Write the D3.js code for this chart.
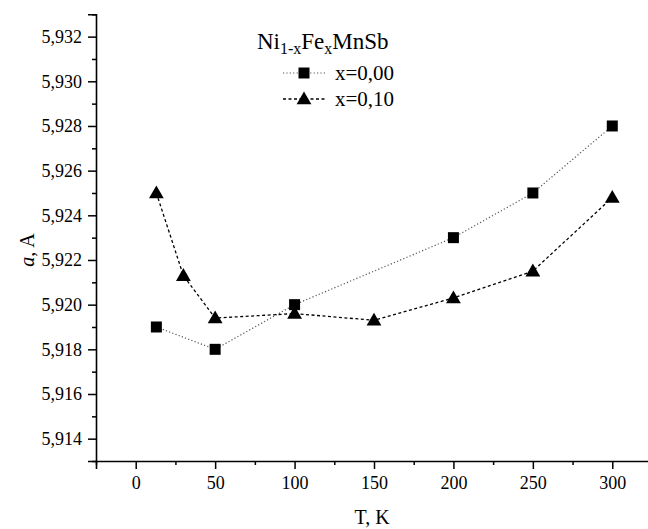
<!DOCTYPE html>
<html>
<head>
<meta charset="utf-8">
<script src="https://cdn.jsdelivr.net/npm/d3@7"></script>
<style>
  html, body { margin: 0; padding: 0; background: #fff; }
  svg { display: block; }
  text { font-family: "Liberation Serif", "Times New Roman", serif; fill: #000; }
</style>
</head>
<body>
<svg id="chart" width="648" height="529"></svg>
<script>
// Lattice parameter a (Å) of Ni(1-x)Fe(x)MnSb versus temperature
const tempX000 = [13, 50, 100, 200, 250, 300];
const aX000    = [5.9190, 5.9180, 5.9200, 5.9230, 5.9250, 5.9280];
const tempX010 = [13, 30, 50, 100, 150, 200, 250, 300];
const aX010    = [5.9250, 5.9213, 5.9194, 5.9196, 5.9193, 5.9203, 5.9215, 5.9248];

const xTicks = [0, 50, 100, 150, 200, 250, 300];
const yTicks = [5.914, 5.916, 5.918, 5.920, 5.922, 5.924, 5.926, 5.928, 5.930, 5.932];
const seriesLabels = ["x=0,00", "x=0,10"];

const SERIF = "'Liberation Serif', 'Times New Roman', serif";
const svg = d3.select("#chart");

const x = d3.scaleLinear().domain([-25, 325]).range([96, 652]);
const y = d3.scaleLinear().domain([5.913, 5.933]).range([461, 14.3]);

const fmtY = v => d3.format(".3f")(v).replace(".", ",");

// X axis: major ticks every 50, minor every 25
const xMinor = d3.range(-25, 326, 25).filter(v => !xTicks.includes(v));
const gx = svg.append("g").attr("transform", `translate(0,${y.range()[0]})`);
gx.call(d3.axisBottom(x).tickValues(xMinor).tickSize(4).tickFormat(""))
  .call(g => g.select(".domain").remove());
gx.append("g").call(d3.axisBottom(x).tickValues(xTicks).tickSize(8).tickPadding(7).tickFormat(d3.format("d")));
gx.selectAll("g").attr("font-family", SERIF);
gx.selectAll("line").attr("stroke", "#000").attr("stroke-width", 1.5);
gx.selectAll(".domain").attr("stroke", "#000").attr("stroke-width", 1.6);
gx.selectAll("text").style("font-family", SERIF).style("font-size", "18px");

// Y axis: major ticks every 0.002, minor every 0.001
const yMinor = d3.range(5.913, 5.9331, 0.002).map(v => +v.toFixed(4));
const gy = svg.append("g").attr("transform", `translate(${x.range()[0]},0)`);
gy.call(d3.axisLeft(y).tickValues(yMinor).tickSize(4).tickFormat(""))
  .call(g => g.select(".domain").remove());
gy.append("g").call(d3.axisLeft(y).tickValues(yTicks).tickSize(8).tickPadding(6).tickFormat(fmtY));
gy.selectAll("g").attr("font-family", SERIF);
gy.selectAll("line").attr("stroke", "#000").attr("stroke-width", 1.5);
gy.selectAll(".domain").attr("stroke", "#000").attr("stroke-width", 1.6);
gy.selectAll("text").style("font-family", SERIF).style("font-size", "18px");

// Axis titles
svg.append("text")
  .attr("x", 372).attr("y", 524)
  .attr("text-anchor", "middle")
  .style("font-size", "20px")
  .text("T, K");

const yTitle = svg.append("text")
  .attr("transform", "translate(34,250) rotate(-90)")
  .attr("text-anchor", "middle")
  .style("font-size", "20px");
yTitle.append("tspan").style("font-style", "italic").text("a");
yTitle.append("tspan").text(", A");

// Series
const line = d3.line().x(d => x(d[0])).y(d => y(d[1]));
const s1 = tempX000.map((t, i) => [t, aX000[i]]);
const s2 = tempX010.map((t, i) => [t, aX010[i]]);

svg.append("path").datum(s1)
  .attr("d", line).attr("fill", "none")
  .attr("stroke", "#555").attr("stroke-width", 1.2).attr("stroke-dasharray", "1.2,2.2");
svg.append("path").datum(s2)
  .attr("d", line).attr("fill", "none")
  .attr("stroke", "#000").attr("stroke-width", 1.3).attr("stroke-dasharray", "3,2.5");

const square = d3.symbol().type(d3.symbolSquare).size(121);
const triangle = d3.symbol().type(d3.symbolTriangle).size(95);

svg.append("g").selectAll("path").data(s1).join("path")
  .attr("d", square)
  .attr("transform", d => `translate(${x(d[0])},${y(d[1])})`)
  .attr("fill", "#000");
svg.append("g").selectAll("path").data(s2).join("path")
  .attr("d", triangle)
  .attr("transform", d => `translate(${x(d[0])},${y(d[1]) + 1})`)
  .attr("fill", "#000");

// Legend
const title = svg.append("text").attr("x", 257).attr("y", 49).style("font-size", "23px");
title.append("tspan").text("Ni");
title.append("tspan").attr("dy", 5).style("font-size", "16px").text("1-x");
title.append("tspan").attr("dy", -5).text("Fe");
title.append("tspan").attr("dy", 5).style("font-size", "16px").text("x");
title.append("tspan").attr("dy", -5).text("MnSb");

const legendRows = [
  { y: 73, color: "#555", width: 1.2, dash: "1.2,2.2", sym: square, label: seriesLabels[0] },
  { y: 99, color: "#000", width: 1.3, dash: "3,2.5", sym: triangle, label: seriesLabels[1] }
];
const lg = svg.append("g").selectAll("g").data(legendRows).join("g");
lg.append("line")
  .attr("x1", 283).attr("x2", 326)
  .attr("y1", d => d.y).attr("y2", d => d.y)
  .attr("stroke", d => d.color).attr("stroke-width", d => d.width)
  .attr("stroke-dasharray", d => d.dash);
lg.append("path")
  .attr("d", d => d.sym())
  .attr("transform", d => `translate(304,${d.y + (d.sym === triangle ? 1 : 0)})`)
  .attr("fill", "#000");
lg.append("text")
  .attr("x", 335).attr("y", d => d.y + 7)
  .style("font-size", "21px")
  .text(d => d.label);
</script>
</body>
</html>
